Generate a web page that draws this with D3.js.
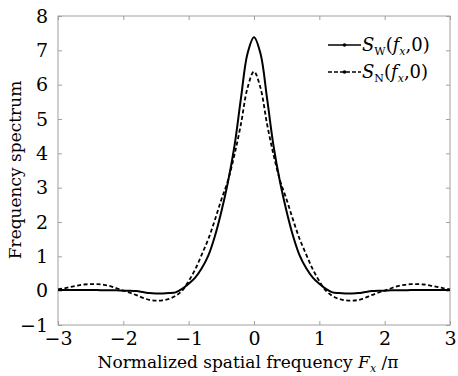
<!DOCTYPE html>
<html>
<head>
<meta charset="utf-8">
<script src="https://cdn.jsdelivr.net/npm/d3@7"></script>
<style>
  body { margin: 0; background: #fff; }
  svg { display: block; }
  text { font-family: "DejaVu Serif", "Liberation Serif", serif; fill: #000; }
</style>
</head>
<body>
<svg id="chart" width="458" height="376"></svg>
<script>
// normalized spatial frequency samples
const freqX = [
  -3.0, -2.9, -2.8, -2.7, -2.6, -2.5, -2.4, -2.3, -2.2, -2.1,
  -2.0, -1.9, -1.8, -1.7, -1.6, -1.5, -1.4, -1.3, -1.2, -1.1,
  -1.0, -0.9, -0.8, -0.7, -0.6, -0.5, -0.4, -0.3, -0.2, -0.1,
  0.0,
  0.1, 0.2, 0.3, 0.4, 0.5, 0.6, 0.7, 0.8, 0.9, 1.0,
  1.1, 1.2, 1.3, 1.4, 1.5, 1.6, 1.7, 1.8, 1.9, 2.0,
  2.1, 2.2, 2.3, 2.4, 2.5, 2.6, 2.7, 2.8, 2.9, 3.0
];
// S_W(fx,0) solid
const sW = [
  0.02, 0.02, 0.02, 0.02, 0.02, 0.02, 0.02, 0.01, 0.01, 0.01,
  0.0, 0.0, -0.01, -0.04, -0.07, -0.08, -0.08, -0.07, -0.05, 0.05,
  0.2, 0.38, 0.65, 1.02, 1.58, 2.3, 3.15, 4.2, 5.6, 6.9,
  7.38,
  6.9, 5.6, 4.2, 3.15, 2.3, 1.58, 1.02, 0.65, 0.38, 0.2,
  0.05, -0.05, -0.07, -0.08, -0.08, -0.07, -0.04, -0.01, 0.0, 0.0,
  0.01, 0.01, 0.01, 0.02, 0.02, 0.02, 0.02, 0.02, 0.02, 0.02
];
// S_N(fx,0) dashed
const sN = [
  0.04, 0.07, 0.11, 0.15, 0.18, 0.19, 0.19, 0.17, 0.13, 0.07,
  0.0, -0.06, -0.13, -0.21, -0.27, -0.29, -0.28, -0.24, -0.15, 0.0,
  0.28, 0.62, 1.05, 1.5, 2.05, 2.65, 3.2, 3.95, 4.85, 5.9,
  6.38,
  5.9, 4.85, 3.95, 3.2, 2.65, 2.05, 1.5, 1.05, 0.62, 0.28,
  0.0, -0.15, -0.24, -0.28, -0.29, -0.27, -0.21, -0.13, -0.06, 0.0,
  0.07, 0.13, 0.17, 0.19, 0.19, 0.18, 0.15, 0.11, 0.07, 0.04
];
const xTicks = [-3, -2, -1, 0, 1, 2, 3];
const yTicks = [-1, 0, 1, 2, 3, 4, 5, 6, 7, 8];

const svg = d3.select('#chart');
const plotL = 58, plotR = 450, plotT = 16, plotB = 325;
const frameColor = '#a0a0a0';

const x = d3.scaleLinear().domain([-3, 3]).range([plotL, plotR]);
const y = d3.scaleLinear().domain([-1, 8]).range([plotB, plotT]);

// frame
svg.append('rect')
    .attr('x', plotL).attr('y', plotT)
    .attr('width', plotR - plotL).attr('height', plotB - plotT)
    .attr('fill', 'none').attr('stroke', frameColor).attr('stroke-width', 1);

const tickFmt = d => d < 0 ? '\u2212' + Math.abs(d) : String(d);

// axes with inward ticks
const gx = svg.append('g').attr('transform', `translate(0,${plotB})`)
    .call(d3.axisBottom(x).tickValues(xTicks).tickSizeInner(-4).tickSizeOuter(0).tickPadding(10).tickFormat(tickFmt));
const gxTop = svg.append('g').attr('transform', `translate(0,${plotT})`)
    .call(d3.axisTop(x).tickValues(xTicks).tickSizeInner(-4).tickSizeOuter(0).tickFormat(''));
const gy = svg.append('g').attr('transform', `translate(${plotL},0)`)
    .call(d3.axisLeft(y).tickValues(yTicks).tickSizeInner(-4).tickSizeOuter(0).tickPadding(10).tickFormat(tickFmt));
const gyRight = svg.append('g').attr('transform', `translate(${plotR},0)`)
    .call(d3.axisRight(y).tickValues(yTicks).tickSizeInner(-4).tickSizeOuter(0).tickFormat(''));

[gx, gxTop, gy, gyRight].forEach(g => {
    g.select('.domain').remove();
    g.selectAll('.tick line').attr('stroke', frameColor);
    g.selectAll('.tick text').style('font-size', '19px').style('font-family', '"DejaVu Serif", serif').attr('fill', '#000');
});
gx.selectAll('.tick text').attr('dy', '0.55em');

// curves
const line = d3.line()
    .x((d, i) => x(freqX[i]))
    .y(d => y(d))
    .curve(d3.curveCatmullRom.alpha(0.5));

svg.append('path').datum(sN)
    .attr('d', line)
    .attr('fill', 'none').attr('stroke', '#000')
    .attr('stroke-width', 1.8).attr('stroke-dasharray', '4,2.5');

svg.append('path').datum(sW)
    .attr('d', line)
    .attr('fill', 'none').attr('stroke', '#000')
    .attr('stroke-width', 2);

// legend
const legend = svg.append('g');
const rows = [
    {sub: 'W', dash: null, yPos: 45},
    {sub: 'N', dash: '4,2', yPos: 72}
];
rows.forEach(r => {
    legend.append('line')
        .attr('x1', 328).attr('x2', 361).attr('y1', r.yPos).attr('y2', r.yPos)
        .attr('stroke', '#000').attr('stroke-width', 1.6)
        .attr('stroke-dasharray', r.dash);
    legend.append('circle').attr('cx', 344.5).attr('cy', r.yPos).attr('r', 1.8).attr('fill', '#000');
    const t = legend.append('text').attr('x', 362).attr('y', r.yPos + 6).style('font-size', '18px');
    t.append('tspan').text('S').style('font-style', 'italic');
    t.append('tspan').text(r.sub).attr('dy', 4).style('font-size', '11px');
    t.append('tspan').text('(').attr('dy', -4);
    t.append('tspan').text('f').style('font-style', 'italic');
    t.append('tspan').text('x').attr('dy', 4).style('font-size', '11px').style('font-style', 'italic');
    t.append('tspan').text(',0)').attr('dy', -4);
});

// axis titles
const xt = svg.append('text')
    .attr('x', 248).attr('y', 368)
    .attr('text-anchor', 'middle')
    .style('font-size', '17px');
xt.append('tspan').text('Normalized spatial frequency ');
xt.append('tspan').text('F').style('font-style', 'italic');
xt.append('tspan').text('x').attr('dy', 4).style('font-size', '11px').style('font-style', 'italic');
xt.append('tspan').text(' /\u03c0').attr('dy', -4);

svg.append('text')
    .attr('transform', 'translate(21,170) rotate(-90)')
    .attr('text-anchor', 'middle')
    .style('font-size', '17px')
    .text('Frequency spectrum');
</script>
</body>
</html>
